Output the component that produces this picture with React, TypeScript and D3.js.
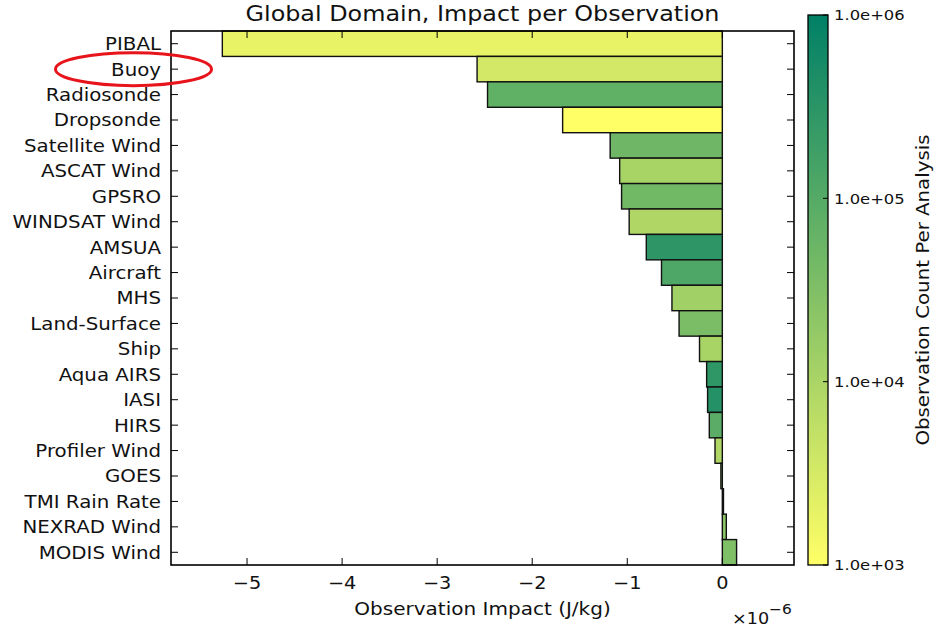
import React from "react";
import * as d3 from "d3";

// Observation types, top to bottom
const categories = [
  "PIBAL", "Buoy", "Radiosonde", "Dropsonde", "Satellite Wind", "ASCAT Wind",
  "GPSRO", "WINDSAT Wind", "AMSUA", "Aircraft", "MHS", "Land-Surface", "Ship",
  "Aqua AIRS", "IASI", "HIRS", "Profiler Wind", "GOES", "TMI Rain Rate",
  "NEXRAD Wind", "MODIS Wind",
];

// Impact per observation, in units of 1e-6 J/kg
const impact = [
  -5.26, -2.58, -2.47, -1.68, -1.18, -1.08, -1.06, -0.98, -0.8, -0.64, -0.53,
  -0.455, -0.24, -0.165, -0.155, -0.137, -0.077, -0.015, 0.012, 0.042, 0.15,
];

// Observation count per analysis (colour)
const counts = [
  1860, 3400, 74000, 800, 50000, 10500, 45000, 8500, 290000, 120000, 12800,
  36000, 10500, 280000, 380000, 88000, 8500, 20000, 5000, 22000, 32000,
];

const xTicks = [-5, -4, -3, -2, -1, 0];
const cbTicks = [1e3, 1e4, 1e5, 1e6];

const W = 937;
const H = 627;
const FONT = "DejaVu Sans, Liberation Sans, sans-serif";
const SX = 1.1; // horizontal stretch of the glyphs
const INK = "#111";

// summer_r: yellow (low) to green (high)
const summerR = (t: number) => {
  const u = Math.max(0, Math.min(1, t));
  return d3.rgb(255 * (1 - u), 255 * (1 - 0.5 * u), 0.4 * 255).formatHex();
};

type TProps = {
  x: number;
  y: number;
  size: number;
  anchor?: "start" | "middle" | "end";
  rotate?: number;
  dy?: string;
  children: React.ReactNode;
};

const T = ({ x, y, size, anchor = "start", rotate = 0, dy, children }: TProps) => (
  <text
    transform={`translate(${x},${y}) rotate(${rotate}) scale(${SX},1)`}
    textAnchor={anchor}
    fontSize={size}
    dy={dy}
    fill={INK}
  >
    {children}
  </text>
);

export default function App() {
  const plot = { left: 171, right: 794, top: 31, bottom: 565 };
  const cb = { left: 808, right: 828, top: 15, bottom: 565 };

  const x = d3.scaleLinear().domain([-5.8, 0.754]).range([plot.left, plot.right]);
  const y = d3
    .scaleBand<string>()
    .domain(categories)
    .range([plot.top, plot.bottom])
    .padding(0);
  const cScale = d3.scaleLog().domain([1e3, 1e6]).range([0, 1]);
  const cbY = d3.scaleLog().domain([1e3, 1e6]).range([cb.bottom, cb.top]);

  const fmtExp = (v: number) => {
    const e = Math.round(Math.log10(v));
    return `1.0e+${String(e).padStart(2, "0")}`;
  };
  const fmtTick = (v: number) => (v < 0 ? "\u2212" + Math.abs(v) : String(v));

  const tickLen = 7;
  const x0 = x(0);

  return (
    <svg
      width={W}
      height={H}
      style={{ position: "absolute", left: 0, top: 0, background: "#fff" }}
      fontFamily={FONT}
    >
      <defs>
        <linearGradient id="cbGrad" x1="0" y1="1" x2="0" y2="0">
          {d3.range(0, 1.0001, 0.1).map((t) => (
            <stop key={t} offset={`${t * 100}%`} stopColor={summerR(t)} />
          ))}
        </linearGradient>
      </defs>

      {/* Title */}
      <T x={(plot.left + plot.right) / 2} y={21} size={21.7} anchor="middle">
        Global Domain, Impact per Observation
      </T>

      {/* Bars */}
      {categories.map((c, i) => {
        const v = impact[i];
        const xa = Math.min(x(v), x0);
        const w = Math.abs(x(v) - x0);
        return (
          <rect
            key={c}
            x={xa}
            y={y(c)!}
            width={w}
            height={y.bandwidth()}
            fill={summerR(cScale(counts[i]))}
            stroke="#111"
            strokeWidth={1.4}
          />
        );
      })}

      {/* Axes frame */}
      <rect
        x={plot.left}
        y={plot.top}
        width={plot.right - plot.left}
        height={plot.bottom - plot.top}
        fill="none"
        stroke="#000"
        strokeWidth={1.6}
      />

      {/* X ticks (bottom and top, inward) */}
      {xTicks.map((t) => (
        <g key={t}>
          <line x1={x(t)} x2={x(t)} y1={plot.bottom} y2={plot.bottom - tickLen} stroke="#000" strokeWidth={1} />
          <line x1={x(t)} x2={x(t)} y1={plot.top} y2={plot.top + tickLen} stroke="#000" strokeWidth={1} />
          <T x={x(t)} y={589} size={17.5} anchor="middle">
            {fmtTick(t)}
          </T>
        </g>
      ))}

      {/* Y ticks and labels */}
      {categories.map((c) => {
        const cy = y(c)! + y.bandwidth() / 2;
        return (
          <g key={c}>
            <line x1={plot.left} x2={plot.left + tickLen} y1={cy} y2={cy} stroke="#000" strokeWidth={1} />
            <line x1={plot.right} x2={plot.right - tickLen} y1={cy} y2={cy} stroke="#000" strokeWidth={1} />
            <T x={161} y={cy} dy="0.36em" size={18} anchor="end">
              {c}
            </T>
          </g>
        );
      })}

      {/* X axis label and offset */}
      <T x={(plot.left + plot.right) / 2} y={615} size={18.2} anchor="middle">
        Observation Impact (J/kg)
      </T>
      <T x={732} y={624} size={16}>
        ×10
        <tspan dy={-10} fontSize={14}>
          {"\u22126"}
        </tspan>
      </T>

      {/* Colorbar */}
      <rect
        x={cb.left}
        y={cb.top}
        width={cb.right - cb.left}
        height={cb.bottom - cb.top}
        fill="url(#cbGrad)"
        stroke="#000"
        strokeWidth={1.3}
      />
      {cbTicks.map((t) => (
        <g key={t}>
          <line x1={cb.right - 5} x2={cb.right} y1={cbY(t)} y2={cbY(t)} stroke="#000" strokeWidth={1} />
          <T x={834} y={cbY(t)} dy="0.36em" size={14.9}>
            {fmtExp(t)}
          </T>
        </g>
      ))}
      <T x={929} y={(cb.top + cb.bottom) / 2} size={18} anchor="middle" rotate={-90}>
        Observation Count Per Analysis
      </T>

      {/* Highlight around the Buoy label */}
      <ellipse
        cx={133.5}
        cy={y("Buoy")! + y.bandwidth() / 2}
        rx={78}
        ry={16.5}
        fill="none"
        stroke="#e8141b"
        strokeWidth={3}
      />
    </svg>
  );
}
